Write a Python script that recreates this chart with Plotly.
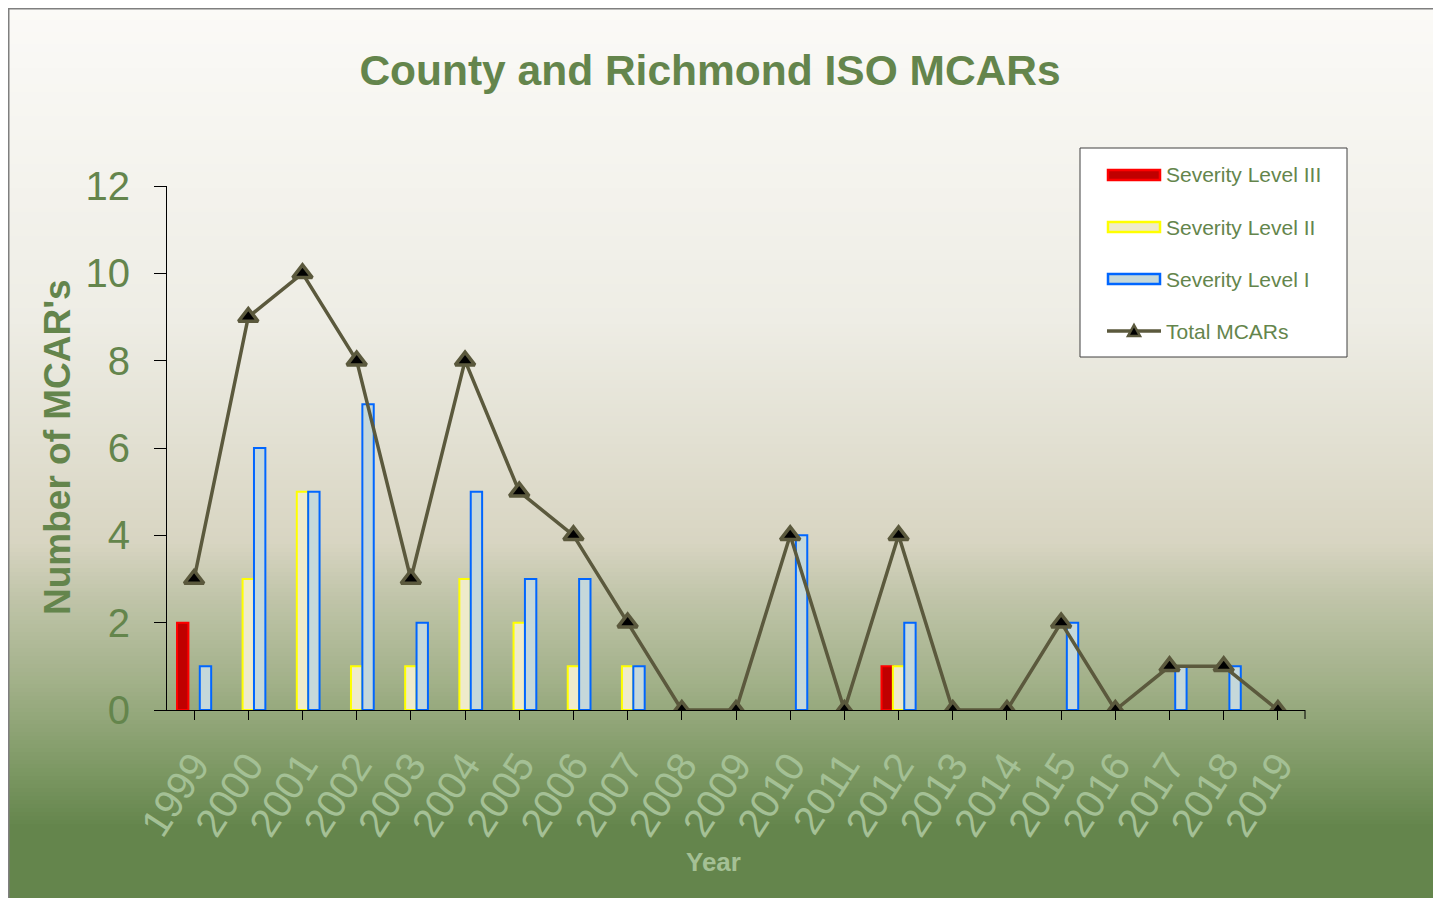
import plotly.graph_objects as go

# ---------------- data ----------------
years = [str(y) for y in range(1999, 2020)]
level_iii = [2, 0, 0, 0, 0, 0, 0, 0, 0, 0, 0, 0, 0, 1, 0, 0, 0, 0, 0, 0, 0]
level_ii = [0, 3, 5, 1, 1, 3, 2, 1, 1, 0, 0, 0, 0, 1, 0, 0, 0, 0, 0, 0, 0]
level_i = [1, 6, 5, 7, 2, 5, 3, 3, 1, 0, 0, 4, 0, 2, 0, 0, 2, 0, 1, 1, 0]
total = [3, 9, 10, 8, 3, 8, 5, 4, 2, 0, 0, 4, 0, 4, 0, 0, 2, 0, 1, 1, 0]
y_ticks = [0, 2, 4, 6, 8, 10, 12]

OFF = 8  # page body margin
W, H = 1441 - OFF, 898 - OFF
L, R, T, B = 167 - OFF, 1305 - OFF, 186 - OFF, 710 - OFF  # plot area in figure pixels


def px(x):
    """page x pixel -> paper"""
    return (x - OFF - L) / (R - L)


def py(y):
    """page y pixel -> paper"""
    return (B - (y - OFF)) / (B - T)


GREEN = "#64854c"
LIGHT = "#a4c095"
FONT = "Liberation Sans, Arial, sans-serif"


def nz(v):
    return [a if a else None for a in v]


fig = go.Figure()
fig.add_trace(go.Bar(
    x=years, y=nz(level_iii), name="Severity Level III",
    marker=dict(color="#c00000", line=dict(color="#ff0000", width=2)),
    showlegend=False))
fig.add_trace(go.Bar(
    x=years, y=nz(level_ii), name="Severity Level II",
    marker=dict(color="#efebcb", line=dict(color="#ffff00", width=2)),
    showlegend=False))
fig.add_trace(go.Bar(
    x=years, y=nz(level_i), name="Severity Level I",
    marker=dict(color="#c5d8da", line=dict(color="#0066ff", width=2)),
    showlegend=False))
fig.add_trace(go.Scatter(
    x=years, y=total, name="Total MCARs", mode="lines+markers",
    line=dict(color="#5b593d", width=3.5),
    marker=dict(symbol="triangle-up", size=17, color="#000000",
                line=dict(color="#5b593d", width=3.5)),
    showlegend=False))

# ---------------- background gradient ----------------
stops = [
    (0.00, (251, 250, 247)),
    (0.35, (238, 237, 229)),
    (0.60, (216, 213, 194)),
    (0.66, (193, 197, 170)),
    (0.76, (161, 176, 136)),
    (0.86, (123, 151, 98)),
    (0.92, (100, 133, 76)),
    (1.00, (100, 133, 76)),
]


def grad(t):
    for (t0, c0), (t1, c1) in zip(stops, stops[1:]):
        if t0 <= t <= t1:
            f = (t - t0) / (t1 - t0) if t1 > t0 else 0
            return "rgb(%d,%d,%d)" % tuple(round(a + (b - a) * f) for a, b in zip(c0, c1))
    return "rgb(100,133,76)"


shapes = []
top, bot = 8, 898 + 5
step = 4
yy = top
while yy < bot:
    t = (yy + step / 2 - top) / (898 - top)
    shapes.append(dict(type="rect", xref="paper", yref="paper",
                       x0=px(7), x1=px(1441 + 10), y0=py(yy), y1=py(min(yy + step + 1, bot + 5)),
                       fillcolor=grad(min(t, 1)), line=dict(width=0), layer="below"))
    yy += step
# frame
shapes.append(dict(type="rect", xref="paper", yref="paper",
                   x0=px(8), x1=px(1441 + 20), y0=py(8), y1=py(898 + 20),
                   line=dict(color="#7f7f7f", width=3), fillcolor="rgba(0,0,0,0)", layer="below"))
# axis end tick
shapes.append(dict(type="line", xref="paper", yref="paper", x0=1, x1=1,
                   y0=0, y1=py(710 + 9), line=dict(color="#000000", width=1)))

# ---------------- custom legend ----------------
shapes.append(dict(type="rect", xref="paper", yref="paper",
                   x0=px(1080), x1=px(1347), y0=py(148), y1=py(357),
                   fillcolor="#ffffff", line=dict(color="#404040", width=1)))
legend_items = [
    ("Severity Level III", "#c00000", "#ff0000", 175),
    ("Severity Level II", "#efebcb", "#ffff00", 227),
    ("Severity Level I", "#c5d8da", "#0066ff", 279),
]
annotations = []
for name, fc, lc, cy in legend_items:
    shapes.append(dict(type="rect", xref="paper", yref="paper",
                       x0=px(1108), x1=px(1160), y0=py(cy - 5), y1=py(cy + 5),
                       fillcolor=fc, line=dict(color=lc, width=2.5)))
    annotations.append(dict(text=name, xref="paper", yref="paper", x=px(1164), y=py(cy),
                            xanchor="left", yanchor="middle", showarrow=False,
                            font=dict(family=FONT, size=21, color=GREEN)))
cy = 331
shapes.append(dict(type="line", xref="paper", yref="paper",
                   x0=px(1107), x1=px(1161), y0=py(cy), y1=py(cy),
                   line=dict(color="#5b593d", width=3.5)))
tx = 1134
shapes.append(dict(type="path", xref="paper", yref="paper",
                   path="M %f %f L %f %f L %f %f Z" % (px(tx - 6), py(cy + 5), px(tx + 6), py(cy + 5), px(tx), py(cy - 6)),
                   fillcolor="#000000", line=dict(color="#5b593d", width=2.5)))
annotations.append(dict(text="Total MCARs", xref="paper", yref="paper", x=px(1164), y=py(cy),
                        xanchor="left", yanchor="middle", showarrow=False,
                        font=dict(family=FONT, size=21, color=GREEN)))

# axis titles
annotations.append(dict(text="<b>Number of MCAR's</b>", xref="paper", yref="paper",
                        x=px(57), y=py(447), textangle=-90, showarrow=False,
                        xanchor="center", yanchor="middle",
                        font=dict(family=FONT, size=37, color=GREEN)))
annotations.append(dict(text="<b>Year</b>", xref="paper", yref="paper",
                        x=px(713), y=py(862), showarrow=False,
                        xanchor="center", yanchor="middle",
                        font=dict(family=FONT, size=26, color=LIGHT)))

fig.update_layout(
    width=W, height=H,
    margin=dict(l=L, r=W - R, t=T, b=H - B, pad=0),
    paper_bgcolor="#ffffff", plot_bgcolor="rgba(0,0,0,0)",
    barmode="group", bargap=0.37, bargroupgap=0,
    title=dict(text="<b>County and Richmond ISO MCARs</b>", x=(710 - OFF) / W, xref="container",
               xanchor="center", y=1 - (70 - OFF) / H, yref="container", yanchor="middle",
               font=dict(family=FONT, size=42.5, color=GREEN)),
    shapes=shapes, annotations=annotations, showlegend=False,
    xaxis=dict(type="category", range=[-0.5, 20.5], showgrid=False, zeroline=False,
               showline=True, linecolor="#000000", linewidth=1,
               ticks="outside", ticklen=9, tickcolor="#000000", tickwidth=1,
               tickangle=-57, ticklabelstandoff=6,
               tickfont=dict(family=FONT, size=40, color=LIGHT)),
    yaxis=dict(range=[0, 12], tickvals=y_ticks, showgrid=False, zeroline=False,
               showline=True, linecolor="#000000", linewidth=1,
               ticks="outside", ticklen=12, tickcolor="#000000", tickwidth=1,
               ticklabelstandoff=16,
               tickfont=dict(family=FONT, size=40, color=GREEN)),
)

fig.write_html("out.html")
